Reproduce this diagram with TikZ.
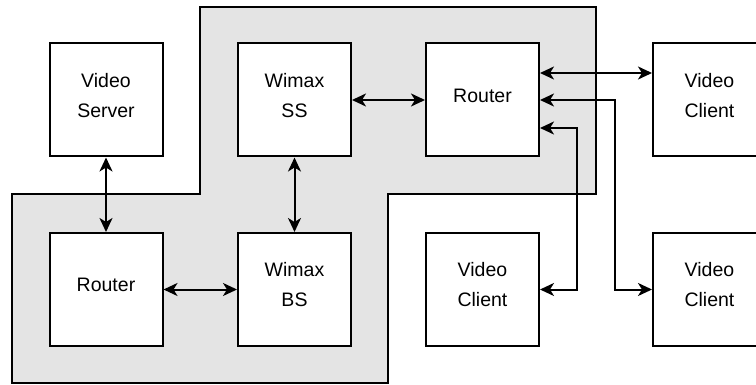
\documentclass[tikz,border=0pt]{standalone}
\usepackage{fontspec}
\setmainfont{Liberation Sans}
\usetikzlibrary{arrows.meta,calc}

\definecolor{zonegray}{HTML}{E4E4E4}

\tikzset{
  box/.style={draw, fill=white, line width=2pt, minimum size=113pt, inner sep=0pt},
  lbl/.style={font=\fontsize{19.5}{30}\selectfont, align=center, inner sep=0pt},
  link/.style={line width=2pt, {Stealth[length=14pt,width=13pt,inset=4pt]}-{Stealth[length=14pt,width=13pt,inset=4pt]}},
  zone/.style={draw, fill=zonegray, line width=2pt, line join=miter}
}

\begin{document}
\begin{tikzpicture}[x=1pt, y=-1pt]
  \clip (0,0) rectangle (756,385);
  \useasboundingbox (0,0) rectangle (756,385);

  % shaded network zone
  \draw[zone] (12,194) -- (200,194) -- (200,7) -- (596,7) -- (596,194)
              -- (388,194) -- (388,383) -- (12,383) -- cycle;

  % equipment boxes
  \node[box] (vs)  at (106,100)   {};
  \node[box] (ss)  at (294.5,100) {};
  \node[box] (rt)  at (482.5,100) {};
  \node[box] (vc1) at (709.5,100) {};
  \node[box] (rb)  at (106,289.5) {};
  \node[box] (bs)  at (294.5,289.5) {};
  \node[box] (vc2) at (482.5,289.5) {};
  \node[box] (vc3) at (709.5,289.5) {};

  % box captions
  \node[lbl] (vsT)  at ([yshift=4.5pt]vs.center)  {Video\\Server};
  \node[lbl] (ssT)  at ([yshift=4.5pt]ss.center)  {Wimax\\SS};
  \node[lbl] (rtT)  at ([yshift=4.5pt]rt.center)  {Router};
  \node[lbl] (vc1T) at ([yshift=4.5pt]vc1.center) {Video\\Client};
  \node[lbl] (rbT)  at ([yshift=4.5pt]rb.center)  {Router};
  \node[lbl] (bsT)  at ([yshift=4.5pt]bs.center)  {Wimax\\BS};
  \node[lbl] (vc2T) at ([yshift=4.5pt]vc2.center) {Video\\Client};
  \node[lbl] (vc3T) at ([yshift=4.5pt]vc3.center) {Video\\Client};

  % routing bends
  \coordinate (j1) at (577,289.5);
  \coordinate (j2) at (615,289.5);

  % links
  \draw[link] (vs.south) -- (rb.north);
  \draw[link] (ss.south) -- (bs.north);
  \draw[link] (rb.east) -- (bs.west);
  \draw[link] (ss.east) -- (rt.west);
  \draw[link] ([yshift=27pt]rt.east) -- ([yshift=27pt]vc1.west);
  \draw[link] (rt.east) -| (j2) -- (vc3.west);
  \draw[link] ([yshift=-28pt]rt.east) -| (j1) -- (vc2.east);
\end{tikzpicture}
\end{document}
